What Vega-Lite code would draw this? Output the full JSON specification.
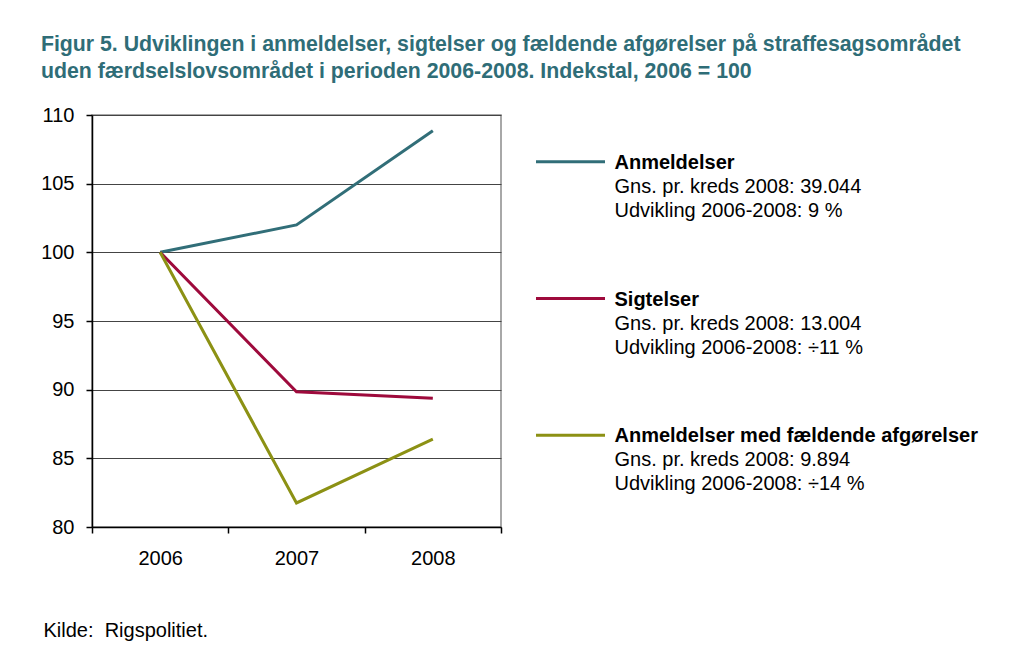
{
  "$schema": "https://vega.github.io/schema/vega-lite/v6.json",
  "background": "white",
  "padding": {"left": 39, "top": 33, "right": 5, "bottom": 5},
  "bounds": "flush",
  "spacing": 35,
  "title": {
    "text": ["Figur 5. Udviklingen i anmeldelser, sigtelser og fældende afgørelser på straffesagsområdet", "uden færdselslovsområdet i perioden 2006-2008. Indekstal, 2006 = 100"],
    "anchor": "start",
    "frame": "bounds",
    "color": "#2f6d77",
    "font": "Liberation Sans",
    "fontSize": 21.3,
    "fontWeight": "bold",
    "lineHeight": 27,
    "offset": 22,
    "dx": 1
  },
  "datasets": {
    "series": [
      {"year": "2006", "serie": "Anmeldelser", "index": 100},
      {"year": "2007", "serie": "Anmeldelser", "index": 102.0},
      {"year": "2008", "serie": "Anmeldelser", "index": 108.85},
      {"year": "2006", "serie": "Sigtelser", "index": 100},
      {"year": "2007", "serie": "Sigtelser", "index": 89.85},
      {"year": "2008", "serie": "Sigtelser", "index": 89.37},
      {"year": "2006", "serie": "Anmeldelser med fældende afgørelser", "index": 100},
      {"year": "2007", "serie": "Anmeldelser med fældende afgørelser", "index": 81.75},
      {"year": "2008", "serie": "Anmeldelser med fældende afgørelser", "index": 86.4}
    ],
    "legend": [
      {"serie": "Anmeldelser", "kreds": "Gns. pr. kreds 2008: 39.044", "udvikling": "Udvikling 2006-2008: 9 %"},
      {"serie": "Sigtelser", "kreds": "Gns. pr. kreds 2008: 13.004", "udvikling": "Udvikling 2006-2008: ÷11 %"},
      {"serie": "Anmeldelser med fældende afgørelser", "kreds": "Gns. pr. kreds 2008: 9.894", "udvikling": "Udvikling 2006-2008: ÷14 %"}
    ]
  },
  "hconcat": [
    {
      "width": 409,
      "height": 412,
      "view": {"stroke": "#8c8c8c", "strokeWidth": 1.5},
      "data": {"name": "series"},
      "mark": {"type": "line", "strokeWidth": 3},
      "encoding": {
        "x": {
          "field": "year",
          "type": "ordinal",
          "scale": {"type": "band", "paddingInner": 0, "paddingOuter": 0},
          "axis": {
            "title": "Kilde:\u00a0 Rigspolitiet.",
            "titleAnchor": "start",
            "titleAlign": "left",
            "titleBaseline": "middle",
            "titleX": -49,
            "titleY": 103,
            "titleFontWeight": "normal",
            "titleFontSize": 20,
            "titleColor": "black",
            "titleFont": "Liberation Sans",
            "labelAngle": 0,
            "labelFontSize": 20,
            "labelFont": "Liberation Sans",
            "labelColor": "black",
            "labelPadding": 15,
            "tickBand": "extent",
            "tickSize": 6,
            "tickColor": "black",
            "tickWidth": 1.5,
            "domainColor": "black",
            "domainWidth": 1.5,
            "grid": false
          }
        },
        "y": {
          "field": "index",
          "type": "quantitative",
          "scale": {"domain": [80, 110], "nice": false, "zero": false},
          "axis": {
            "title": null,
            "values": [80, 85, 90, 95, 100, 105, 110],
            "labelFontSize": 20,
            "labelFont": "Liberation Sans",
            "labelColor": "black",
            "labelPadding": 12,
            "tickSize": 6,
            "tickColor": "black",
            "tickWidth": 1.5,
            "domainColor": "black",
            "domainWidth": 1.5,
            "grid": true,
            "gridColor": "#444444",
            "gridWidth": 1.2
          }
        },
        "color": {
          "field": "serie",
          "type": "nominal",
          "scale": {
            "domain": ["Anmeldelser", "Sigtelser", "Anmeldelser med fældende afgørelser"],
            "range": ["#316e78", "#9e0a3c", "#8c9114"]
          },
          "legend": null
        }
      }
    },
    {
      "width": 69,
      "height": 367,
      "view": {"stroke": null},
      "data": {"name": "legend"},
      "encoding": {
        "y": {
          "field": "serie",
          "type": "nominal",
          "scale": {"type": "point", "padding": 0.3416, "domain": ["Anmeldelser", "Sigtelser", "Anmeldelser med fældende afgørelser"]},
          "axis": null
        }
      },
      "layer": [
        {
          "mark": {"type": "rule", "strokeWidth": 3},
          "encoding": {
            "color": {"field": "serie", "type": "nominal", "legend": null}
          }
        },
        {
          "mark": {"type": "text", "align": "left", "baseline": "middle", "dx": 44, "dy": 1, "fontSize": 20, "fontWeight": "bold", "font": "Liberation Sans", "color": "black"},
          "encoding": {"text": {"field": "serie"}}
        },
        {
          "mark": {"type": "text", "align": "left", "baseline": "middle", "dx": 44, "dy": 25, "fontSize": 20, "font": "Liberation Sans", "color": "black"},
          "encoding": {"text": {"field": "kreds"}}
        },
        {
          "mark": {"type": "text", "align": "left", "baseline": "middle", "dx": 44, "dy": 49, "fontSize": 20, "font": "Liberation Sans", "color": "black"},
          "encoding": {"text": {"field": "udvikling"}}
        }
      ]
    }
  ],
  "config": {"view": {"stroke": null}, "font": "Liberation Sans"}
}
